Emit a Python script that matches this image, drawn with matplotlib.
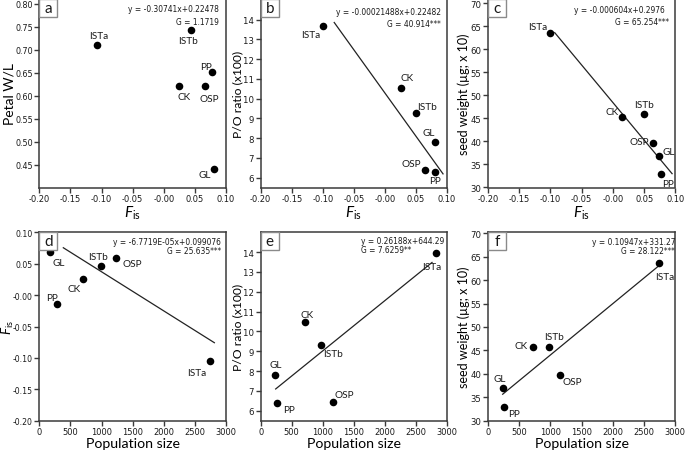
import matplotlib
matplotlib.use("Agg")
import matplotlib.pyplot as plt
from matplotlib import font_manager as fm
from matplotlib.patches import Rectangle
from matplotlib.ticker import FormatStrFormatter
import numpy as np

plt.rcParams['axes.unicode_minus'] = False
plt.rcParams['mathtext.fontset'] = 'custom'
plt.rcParams['mathtext.rm'] = 'Lato'
plt.rcParams['mathtext.it'] = 'Lato:italic'

names = ['ISTa', 'ISTb', 'CK', 'OSP', 'GL', 'PP']

# panel a: Fis vs petal W/L
a_x = [-0.107, 0.043, 0.025, 0.067, 0.080, 0.078]
a_y = [0.711, 0.742, 0.620, 0.620, 0.440, 0.651]
# panel b: Fis vs P/O ratio
b_x = [-0.0993, 0.0507, 0.0266, 0.064, 0.0813, 0.081]
b_y = [13.66, 9.27, 10.54, 6.41, 7.79, 6.30]
b_fit_x = [-0.0816, 0.0936]
b_fit_y = [13.86, 6.19]
# panel c: Fis vs seed weight
c_x = [-0.1012, 0.0503, 0.0151, 0.0642, 0.0744, 0.077]
c_y = [63.6, 45.9, 45.2, 39.7, 36.8, 32.9]
c_fit_x = [-0.0932, 0.0947]
c_fit_y = [63.6, 33.0]
# panel d: population size vs Fis
d_x = [2743, 991, 707, 1232, 171, 279]
d_y = [-0.1055, 0.0456, 0.0253, 0.0584, 0.068, -0.0145]
d_fit_x = [386, 2813]
d_fit_y = [0.0754, -0.0758]
# panel e: population size vs P/O ratio
e_x = [2818, 975, 718, 1157, 236, 257]
e_y = [13.95, 9.32, 10.46, 6.46, 7.81, 6.39]
e_fit_x = [241, 2759]
e_fit_y = [7.10, 13.48]
# panel f: population size vs seed weight
f_x = [2733, 972, 721, 1158, 235, 256]
f_y = [63.7, 45.8, 45.7, 39.7, 36.9, 33.0]
f_fit_x = [235, 2717]
f_fit_y = [35.65, 62.86]

eq_texts = {
    'a': ('y = -0.30741x+0.22478', 'G = 1.1719'),
    'b': ('y = -0.00021488x+0.22482', 'G = 40.914***'),
    'c': ('y = -0.000604x+0.2976', 'G = 65.254***'),
    'd': ('y = -6.7719E-05x+0.099076', 'G = 25.635***'),
    'e': ('y = 0.26188x+644.29', 'G = 7.6259**'),
    'f': ('y = 0.10947x+331.27', 'G = 28.122***'),
}

fis_label = r'$\mathit{F}_{\mathrm{is}}$'

# find a narrow/condensed font if one is installed
narrow_path = None
for f in fm.fontManager.ttflist:
    fn = f.fname.replace('\\', '/').split('/')[-1].lower()
    if ('narrow' in fn or 'condensed' in fn) and 'bold' not in fn and 'oblique' not in fn \
            and 'italic' not in fn and 'light' not in fn:
        if narrow_path is None or 'liberationsansnarrow' in fn:
            narrow_path = f.fname


def small_font(size):
    if narrow_path is not None:
        return fm.FontProperties(fname=narrow_path, size=size * 1.08)
    return fm.FontProperties(family=['Liberation Sans', 'DejaVu Sans'], size=size)


fig = plt.figure(figsize=(6.85, 4.56), dpi=100)
W, H = 685, 456


def make_ax(left, right, top, bottom):
    return fig.add_axes([left / W, 1 - bottom / H, (right - left) / W, (bottom - top) / H])


cols = [(39.3, 226.0), (260.7, 447.0), (488.0, 675.4)]
rows = [(0.0, 188.5), (233.3, 421.7)]

lab_font = ['Lato', 'DejaVu Sans']

offsets = {
    'a': [(2, 9), (-3, -10), (5, -10), (4, -12), (-9, -5), (-6, 6)],
    'b': [(-12, -8), (11, 7), (6, 11), (-13, 6), (-7, 10), (0, -9)],
    'c': [(-12, 6), (0, 10), (-10, 6), (-14, 1), (9, 5), (7, -9)],
    'd': [(-13, -11), (-3, 10), (-9, -9), (16, -5), (9, -10), (-5, 7)],
    'e': [(-4, -13), (12, -9), (2, 8), (12, 7), (0, 10), (12, -6)],
    'f': [(6, -14), (5, 10), (-12, 2), (12, -6), (-3, 10), (10, -7)],
}

eq_pos = {
    'a': ((0.962, 0.947, 'right'), (0.962, 0.883, 'right')),
    'b': ((0.966, 0.936, 'right'), (0.966, 0.872, 'right')),
    'c': ((0.943, 0.942, 'right'), (0.964, 0.883, 'right')),
    'd': ((0.972, 0.949, 'right'), (0.972, 0.905, 'right')),
    'e': ((0.538, 0.955, 'left'), (0.538, 0.910, 'left')),
    'f': ((1.000, 0.949, 'right'), (0.995, 0.905, 'right')),
}

ytick_size = {'a': 5.9, 'b': 6.3, 'c': 6.3, 'd': 5.8, 'e': 6.3, 'f': 6.3}

panels = [
    ('a', 0, 0, a_x, a_y, None, None, (-0.20, 0.10), (0.40, 0.81), 'Petal W/L', 10.0, fis_label),
    ('b', 0, 1, b_x, b_y, b_fit_x, b_fit_y, (-0.20, 0.10), (5.5, 15.05), 'P/O ratio (x100)', 8.7, fis_label),
    ('c', 0, 2, c_x, c_y, c_fit_x, c_fit_y, (-0.20, 0.10), (30, 70.9), 'seed weight (µg; x 10)', 9.0, fis_label),
    ('d', 1, 0, d_x, d_y, d_fit_x, d_fit_y, (0, 3000), (-0.20, 0.10), fis_label, 9.5, 'Population size'),
    ('e', 1, 1, e_x, e_y, e_fit_x, e_fit_y, (0, 3000), (5.5, 15.0), 'P/O ratio (x100)', 8.7, 'Population size'),
    ('f', 1, 2, f_x, f_y, f_fit_x, f_fit_y, (0, 3000), (30, 70.2), 'seed weight (µg; x 10)', 9.0, 'Population size'),
]

spine_col = '#3a3a3a'

for (letter, r, c, xs, ys, fx, fy, xl, yl, ylab, ylab_size, xlab) in panels:
    top, bottom = rows[r]
    left, right = cols[c]
    ax = make_ax(left, right, top, bottom)
    ax.set_xlim(*xl)
    ax.set_ylim(*yl)
    for s in ax.spines.values():
        s.set_color(spine_col)
        s.set_linewidth(1.1)
    ax.tick_params(direction='out', length=3.5, width=1.0, color=spine_col, pad=1.2,
                   top=False, right=False)
    if r == 0:
        ax.set_xticks(np.arange(-0.20, 0.101, 0.05))
        ax.xaxis.set_major_formatter(FormatStrFormatter('%.2f'))
    else:
        ax.set_xticks(np.arange(0, 3001, 500))
    if letter == 'a':
        ax.set_yticks(np.arange(0.45, 0.801, 0.05))
        ax.yaxis.set_major_formatter(FormatStrFormatter('%.2f'))
    elif letter == 'd':
        ax.set_yticks(np.arange(-0.20, 0.101, 0.05))
        ax.yaxis.set_major_formatter(FormatStrFormatter('%.2f'))
    elif letter in ('b', 'e'):
        ax.set_yticks(np.arange(6, 15, 1))
    else:
        ax.set_yticks(np.arange(30, 71, 5))
    for lab in ax.get_xticklabels():
        lab.set_fontproperties(small_font(6.2))
        lab.set_color('#1a1a1a')
    for lab in ax.get_yticklabels():
        lab.set_fontproperties(small_font(ytick_size[letter]))
        lab.set_color('#1a1a1a')

    if fx is not None:
        ax.plot(fx, fy, color='#222222', lw=0.9, zorder=2)
    ax.scatter(xs, ys, s=30, color='black', zorder=3, linewidths=0)
    for nm, x, y, off in zip(names, xs, ys, offsets[letter]):
        ax.annotate(nm, (x, y), xytext=off, textcoords='offset pixels',
                    ha='center', va='center', fontsize=7.2, family=lab_font,
                    color='#1a1a1a')

    (ex, ey, eha), (gx, gy, gha) = eq_pos[letter]
    eq, gt = eq_texts[letter]
    ax.text(ex, ey, eq, transform=ax.transAxes, ha=eha, va='center',
            fontproperties=small_font(5.6), color='#1a1a1a')
    ax.text(gx, gy, gt, transform=ax.transAxes, ha=gha, va='center',
            fontproperties=small_font(5.6), color='#1a1a1a')

    # panel letter box
    bw = 18.0 / (right - left)
    bh = 18.0 / (bottom - top)
    ax.add_patch(Rectangle((0, 1 - bh), bw, bh, transform=ax.transAxes,
                           facecolor='white', edgecolor='#8a8a8a', lw=1.0, zorder=4,
                           clip_on=False))
    ax.text(bw / 2, 1 - bh / 2, letter, transform=ax.transAxes, ha='center', va='center',
            fontsize=11, family=lab_font, color='#1a1a1a', zorder=5)

    ax.set_ylabel(ylab, fontsize=ylab_size, family=lab_font, labelpad=0)
    if letter == 'd':
        ax.yaxis.set_label_coords(-0.148, 0.5)
        ax.yaxis.label.set_va('baseline')
    if r == 0:
        ax.set_xlabel(xlab, fontsize=11, family=lab_font)
        ax.xaxis.set_label_coords(0.5, -0.13)
    else:
        ax.set_xlabel(xlab, fontsize=10.2, family=lab_font)
        ax.xaxis.set_label_coords(0.5, -0.12)
    ax.xaxis.label.set_va('center')

fig.savefig('out.png', dpi=100)
